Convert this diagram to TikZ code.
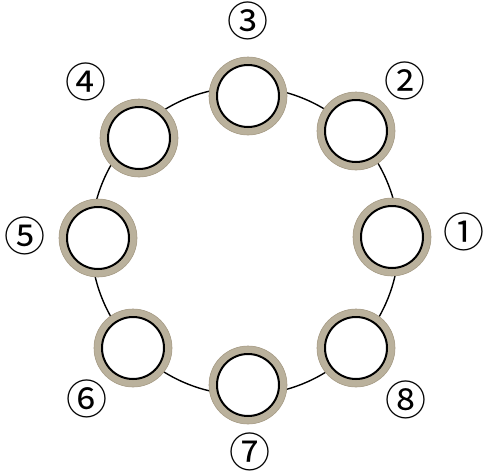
\documentclass[tikz,border=0pt]{standalone}
\usepackage{fontspec}
\newfontfamily\cjkfont{Noto Sans CJK JP}
\definecolor{ringcol}{RGB}{186,177,156}
\definecolor{ringedge}{RGB}{165,154,132}
\begin{document}
\begin{tikzpicture}[x=1pt,y=-1pt,
  ring/.style={circle, minimum size=78pt, inner sep=0pt, fill=ringcol,
    draw=ringedge, line width=0.6pt,
    path picture={\draw[black, line width=2pt, fill=white]
      (path picture bounding box.center) circle[radius=31pt];}},
  lab/.style={inner sep=0pt, font=\cjkfont\fontsize{41}{43}\selectfont}]
\useasboundingbox (0,0) rectangle (484,474);
\coordinate (c) at (245,241);
\draw[line width=1.4pt] (c) circle[radius=154];
\node[ring] (r1) at (392,237) {};
\node[ring] (r2) at (356,131) {};
\node[ring] (r3) at (248,96) {};
\node[ring] (r4) at (139,138) {};
\node[ring] (r5) at (98,238) {};
\node[ring] (r6) at (133,348) {};
\node[ring] (r7) at (248,385) {};
\node[ring] (r8) at (356,348) {};
\node[lab] (l1) at (464,232) {①};
\node[lab] (l2) at (405,81) {②};
\node[lab] (l3) at (248,21) {③};
\node[lab] (l4) at (86,82) {④};
\node[lab] (l5) at (25,236) {⑤};
\node[lab] (l6) at (87,399) {⑥};
\node[lab] (l7) at (250,452) {⑦};
\node[lab] (l8) at (406,400) {⑧};
\end{tikzpicture}
\end{document}
